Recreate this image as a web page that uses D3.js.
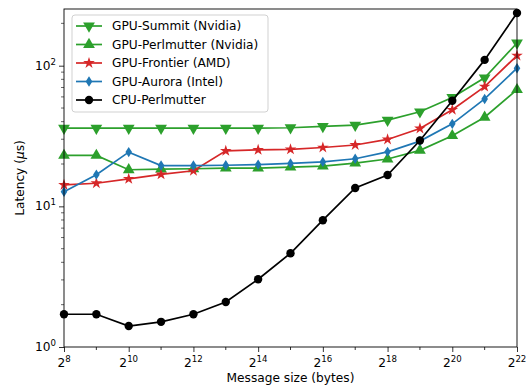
<!DOCTYPE html>
<html>
<head>
<meta charset="utf-8">
<script src="https://cdn.jsdelivr.net/npm/d3@7"></script>
<style>
  body { margin: 0; background: #fff; }
  svg { font-family: "DejaVu Sans", sans-serif; }
</style>
</head>
<body>
<script>
'use strict';

// Message sizes, as powers of two
const exponents = d3.range(8, 23);

// Latency in microseconds
const gpuSummit = [36, 36, 36, 36, 36, 36, 36, 36.2, 37, 37.8, 41, 47, 59.5, 82, 145];
const gpuPerlmutter = [23, 23, 18.2, 18.4, 18.5, 18.7, 18.7, 19, 19.3, 20.3, 21.7, 25, 31.8, 43, 67.5];
const gpuFrontier = [14.2, 14.6, 15.7, 16.9, 17.9, 24.8, 25.2, 25.4, 26.2, 27.3, 29.9, 35.8, 48.6, 71, 118];
const gpuAurora = [12.7, 16.8, 24.3, 19.5, 19.5, 19.6, 19.8, 20.2, 20.7, 21.8, 24.4, 29.1, 38.6, 58, 96];
const cpuPerlmutter = [1.71, 1.71, 1.41, 1.51, 1.71, 2.09, 3.03, 4.64, 7.97, 13.5, 16.7, 29.4, 56.3, 110, 237];

const series = [
  { name: 'GPU-Summit (Nvidia)', values: gpuSummit, color: '#2ca02c', marker: 'tridown' },
  { name: 'GPU-Perlmutter (Nvidia)', values: gpuPerlmutter, color: '#2ca02c', marker: 'triup' },
  { name: 'GPU-Frontier (AMD)', values: gpuFrontier, color: '#d62728', marker: 'star' },
  { name: 'GPU-Aurora (Intel)', values: gpuAurora, color: '#1f77b4', marker: 'diamond' },
  { name: 'CPU-Perlmutter', values: cpuPerlmutter, color: '#000000', marker: 'circle' }
];

const width = 531, height = 387;
const margin = { top: 9, right: 14, bottom: 40, left: 64 };
const innerW = width - margin.left - margin.right;
const innerH = height - margin.top - margin.bottom;
const fontSize = 12.2;

const svg = d3.select('body').append('svg')
  .attr('width', width)
  .attr('height', height);

const g = svg.append('g')
  .attr('transform', `translate(${margin.left},${margin.top})`);

const x = d3.scaleLinear().domain([8, 22]).range([0, innerW]);
const y = d3.scaleLog().domain([1, 253]).range([innerH, 0]);

// Marker shapes (matplotlib-ish)
const markerPath = (type) => {
  switch (type) {
    case 'tridown': return d3.symbol(d3.symbolTriangle, 60)();
    case 'triup': return d3.symbol(d3.symbolTriangle, 60)();
    case 'star': return d3.symbol(d3.symbolStar, 42)();
    case 'diamond': return 'M0,-5.2L3.3,0L0,5.2L-3.3,0Z';
    default: return d3.symbol(d3.symbolCircle, 55)();
  }
};
const markerRotate = (type) => type === 'tridown' ? 'rotate(180)' : '';

// Axes
const xAxis = d3.axisBottom(x)
  .tickValues(d3.range(8, 23, 2))
  .tickSize(5)
  .tickFormat('');
g.append('g').attr('transform', `translate(0,${innerH})`).call(xAxis);

g.append('g').attr('transform', `translate(0,${innerH})`)
  .selectAll('line.minor')
  .data(d3.range(9, 23, 2))
  .enter().append('line')
  .attr('x1', d => x(d)).attr('x2', d => x(d))
  .attr('y1', 0).attr('y2', 3)
  .attr('stroke', '#000').attr('stroke-width', 0.8);

const xLabels = g.append('g').attr('transform', `translate(0,${innerH})`);
d3.range(8, 23, 2).forEach(e => {
  const t = xLabels.append('text')
    .attr('x', x(e))
    .attr('y', 20)
    .attr('text-anchor', 'middle')
    .attr('font-size', fontSize)
    .attr('fill', '#000');
  t.append('tspan').text('2');
  t.append('tspan').attr('font-size', 8.6).attr('dy', -5).text(e);
});

const majorY = [1, 10, 100];
const minorY = [];
[1, 10, 100].forEach(d => d3.range(2, 10).forEach(m => { if (d * m <= 253) minorY.push(d * m); }));

const yAxis = d3.axisLeft(y).tickValues(majorY).tickSize(5).tickFormat('');
g.append('g').call(yAxis);
g.append('g').selectAll('line')
  .data(minorY)
  .enter().append('line')
  .attr('x1', -3).attr('x2', 0)
  .attr('y1', d => y(d)).attr('y2', d => y(d))
  .attr('stroke', '#000').attr('stroke-width', 0.6);

majorY.forEach((v, i) => {
  const t = g.append('text')
    .attr('x', -8)
    .attr('y', y(v) + 4)
    .attr('text-anchor', 'end')
    .attr('font-size', fontSize)
    .attr('fill', '#000');
  t.append('tspan').text('10');
  t.append('tspan').attr('font-size', 8.6).attr('dy', -5).text(i);
});

g.selectAll('.domain').remove();
g.selectAll('.tick line').attr('stroke', '#000').attr('stroke-width', 0.8);

// Series
const line = d3.line()
  .x((d, i) => x(exponents[i]))
  .y(d => y(d));

series.forEach(s => {
  const sg = g.append('g');
  sg.append('path')
    .datum(s.values)
    .attr('d', line)
    .attr('fill', 'none')
    .attr('stroke', s.color)
    .attr('stroke-width', 1.7);
  sg.selectAll('path.m')
    .data(s.values)
    .enter().append('path')
    .attr('class', 'm')
    .attr('d', markerPath(s.marker))
    .attr('transform', (d, i) => `translate(${x(exponents[i])},${y(d)}) ${markerRotate(s.marker)}`)
    .attr('fill', s.color);
});

// Frame
g.append('rect')
  .attr('width', innerW).attr('height', innerH)
  .attr('fill', 'none').attr('stroke', '#000').attr('stroke-width', 0.9);

// Axis titles
svg.append('text')
  .attr('x', margin.left + innerW / 2)
  .attr('y', 382)
  .attr('text-anchor', 'middle')
  .attr('font-size', fontSize)
  .text('Message size (bytes)');

const yt = svg.append('text')
  .attr('transform', `translate(24,${margin.top + innerH / 2}) rotate(-90)`)
  .attr('text-anchor', 'middle')
  .attr('font-size', fontSize);
yt.append('tspan').text('Latency (');
yt.append('tspan').attr('font-style', 'italic').text('μ');
yt.append('tspan').text('s)');

// Legend
const legend = svg.append('g').attr('transform', 'translate(72,15)');
legend.append('rect')
  .attr('width', 196).attr('height', 97)
  .attr('rx', 3)
  .attr('fill', '#fff').attr('fill-opacity', 0.8)
  .attr('stroke', '#ccc').attr('stroke-width', 0.9);

series.forEach((s, i) => {
  const ly = 11 + i * 18.5;
  const lg = legend.append('g').attr('transform', `translate(0,${ly})`);
  lg.append('line')
    .attr('x1', 4).attr('x2', 30)
    .attr('stroke', s.color).attr('stroke-width', 1.7);
  lg.append('path')
    .attr('d', markerPath(s.marker))
    .attr('transform', `translate(17,0) ${markerRotate(s.marker)}`)
    .attr('fill', s.color);
  lg.append('text')
    .attr('x', 40).attr('y', 4.3)
    .attr('font-size', fontSize)
    .text(s.name);
});
</script>
</body>
</html>
